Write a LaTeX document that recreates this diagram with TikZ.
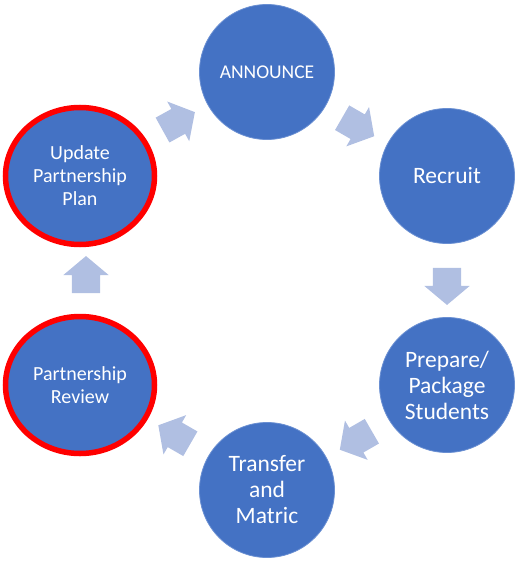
\documentclass[tikz,border=0pt]{standalone}
\usepackage{fontspec}
\setmainfont{Carlito}
\usetikzlibrary{shapes.geometric, shapes.arrows, calc}

\definecolor{stageblue}{HTML}{4472C4}
\definecolor{stageedge}{HTML}{6A8FD2}
\definecolor{flowblue}{HTML}{B0BFE2}

\begin{document}
\begin{tikzpicture}[x=1pt, y=-1pt]

\useasboundingbox (0,0) rectangle (520,561);

% styles
\pgfkeys{/stage/.style={circle, inner sep=0, minimum size=135pt, fill=stageblue, draw=stageedge, line width=0.8pt, text=white, align=center, font=\fontsize{23.5}{26}\selectfont}} % blue stages
\pgfkeys{/keystage/.style={/stage, ellipse, minimum width=149pt, minimum height=137pt, draw=red, line width=5.5pt, font=\fontsize{20}{23}\selectfont}} % red ringed stages
\pgfkeys{/smalltext/.style={font=\fontsize{19.5}{23}\selectfont}}
\pgfkeys{/flow/.style={single arrow, inner xsep=0, inner ysep=14pt, minimum height=37pt, single arrow head extend=8.5pt, single arrow tip angle=100, fill=flowblue}} % block arrows

% stages of the cycle
\node[/stage, /smalltext] (ann) at (267,72) {ANNOUNCE};
\node[/stage] (rec) at (447,176) {Recruit};
\node[/stage] (prep) at (447,385) {Prepare/\\Package\\Students};
\node[/stage] (trans) at (267,490) {Transfer\\and\\Matric};
\node[/keystage] (rev) at (80,385) {Partnership\\Review};
\node[/keystage] (upd) at (80,176) {Update\\Partnership\\Plan};

% arrows between stages
\foreach \a/\b/\r/\s in {upd/ann/29/0, ann/rec/-30/-4, rec/prep/-90/0, prep/trans/-150/4, trans/rev/150/6, rev/upd/90/6} {
\node[/flow, rotate=\r] (\a-\b) at ($(\a)!0.5!(\b)+(\s,0)$) {}; % arrow from \a to \b
}

\end{tikzpicture}
\end{document}
